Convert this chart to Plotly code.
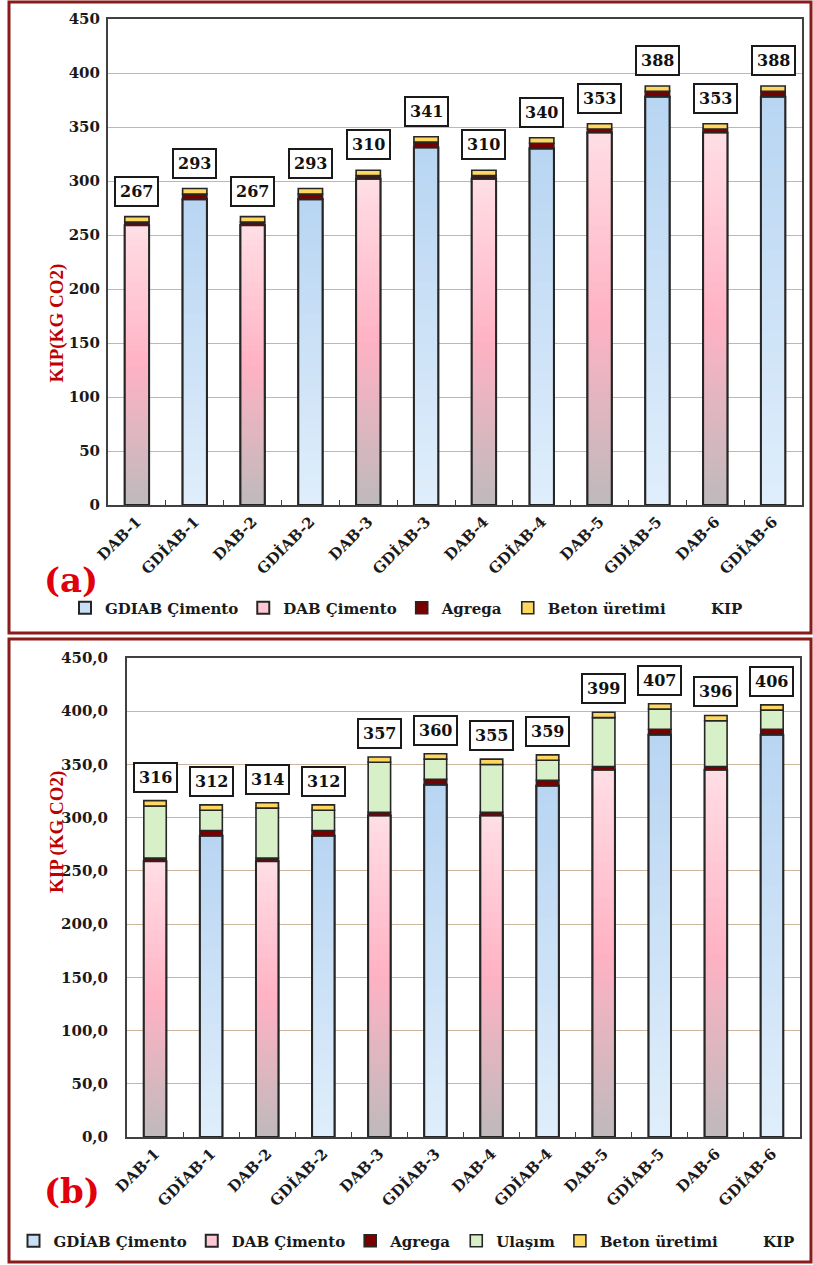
import plotly.graph_objects as go

# ---- data -------------------------------------------------------------
kategoriler = ["DAB-1", "GDİAB-1", "DAB-2", "GDİAB-2", "DAB-3", "GDİAB-3",
               "DAB-4", "GDİAB-4", "DAB-5", "GDİAB-5", "DAB-6", "GDİAB-6"]
cimento = [259, 283, 259, 283, 302, 331, 302, 330, 345, 378, 345, 378]
agrega = [3, 5, 3, 5, 3, 5, 3, 5, 3, 5, 3, 5]
beton_uretimi = [5, 5, 5, 5, 5, 5, 5, 5, 5, 5, 5, 5]
ulasim = [49, 19, 47, 19, 47, 19, 45, 19, 46, 19, 43, 18]

y_ticks = [0, 50, 100, 150, 200, 250, 300, 350, 400, 450]
y_ticktext_a = ["0", "50", "100", "150", "200", "250", "300", "350", "400", "450"]
y_ticktext_b = ["0,0", "50,0", "100,0", "150,0", "200,0", "250,0",
                "300,0", "350,0", "400,0", "450,0"]

# ---- page geometry helpers -------------------------------------------
W, H = 813, 1265


def px(x):
    return x / W


def py(y):
    return 1 - y / H


SERIF = "DejaVu Serif"
TIMES = "Liberation Serif"
EDGE = "#262626"
N_SLICES = 40

PINK_STOPS = [(0.0, (255, 222, 229)), (0.5, (255, 178, 196)), (1.0, (190, 186, 188))]
BLUE_STOPS = [(0.0, (184, 213, 242)), (1.0, (224, 238, 251))]


def ramp(stops, t):
    for (t0, c0), (t1, c1) in zip(stops[:-1], stops[1:]):
        if t <= t1:
            f = (t - t0) / (t1 - t0) if t1 > t0 else 0
            r, g, b = (round(a + (b_ - a) * f) for a, b_ in zip(c0, c1))
            return f"rgb({r},{g},{b})"
    r, g, b = stops[-1][1]
    return f"rgb({r},{g},{b})"


is_gd = [k.startswith("GD") for k in kategoriler]

fig = go.Figure()

panels = [
    dict(xa="x", ya="y", leg="legend", show_ulasim=False, bw=0.42,
         gd_name="GDIAB Çimento", lab_shift=10),
    dict(xa="x2", ya="y2", leg="legend2", show_ulasim=True, bw=0.40,
         gd_name="GDİAB Çimento", lab_shift=8),
]

annotations = []

for p in panels:
    xa, ya, leg, bw = p["xa"], p["ya"], p["leg"], p["bw"]
    common = dict(xaxis=xa, yaxis=ya, legend=leg, width=bw, hoverinfo="skip")

    # cement bars (legend entries)
    fig.add_trace(go.Bar(
        x=kategoriler, y=[c if g else None for c, g in zip(cimento, is_gd)],
        name=p["gd_name"], marker=dict(color="rgb(200,224,246)", line=dict(color=EDGE, width=2)),
        **common))
    fig.add_trace(go.Bar(
        x=kategoriler, y=[c if not g else None for c, g in zip(cimento, is_gd)],
        name="DAB Çimento", marker=dict(color="rgb(255,200,212)", line=dict(color=EDGE, width=2)),
        **common))

    # vertical colour ramp on the cement bars
    for k in range(N_SLICES):
        t = 1 - (k + 0.5) / N_SLICES
        colors = [ramp(BLUE_STOPS, t) if g else ramp(PINK_STOPS, t) for g in is_gd]
        fig.add_trace(go.Bar(
            x=kategoriler,
            y=[c * (N_SLICES - k) / N_SLICES for c in cimento],
            base=[c * k / N_SLICES for c in cimento],
            marker=dict(color=colors, line=dict(width=0)),
            showlegend=False, **common))

    # cement outline on top of the ramp
    fig.add_trace(go.Bar(
        x=kategoriler, y=cimento, showlegend=False,
        marker=dict(color="rgba(0,0,0,0)", line=dict(color=EDGE, width=2)),
        **common))

    base = list(cimento)
    fig.add_trace(go.Bar(
        x=kategoriler, y=agrega, base=base, name="Agrega",
        marker=dict(color="#7A0000", line=dict(color=EDGE, width=1.6)), **common))
    base = [b + a for b, a in zip(base, agrega)]

    if p["show_ulasim"]:
        fig.add_trace(go.Bar(
            x=kategoriler, y=ulasim, base=base, name="Ulaşım",
            marker=dict(color="#D8F0C8", line=dict(color=EDGE, width=1.6)), **common))
        base = [b + u for b, u in zip(base, ulasim)]

    fig.add_trace(go.Bar(
        x=kategoriler, y=beton_uretimi, base=base, name="Beton üretimi",
        marker=dict(color="#FFD75E", line=dict(color=EDGE, width=1.6)), **common))
    toplam = [b + v for b, v in zip(base, beton_uretimi)]

    # KIP series: carries the total labels
    fig.add_trace(go.Scatter(
        x=kategoriler, y=toplam, mode="markers", name="KIP",
        marker=dict(color="rgba(0,0,0,0)", size=1),
        xaxis=xa, yaxis=ya, legend=leg, hoverinfo="skip"))

    for cat, tot in zip(kategoriler, toplam):
        annotations.append(dict(
            x=cat, y=tot, xref=xa, yref=ya, text=f"{tot:g}", showarrow=False,
            yanchor="bottom", yshift=p["lab_shift"],
            font=dict(family=SERIF, size=16, color="#111", weight="bold"),
            bgcolor="white", bordercolor="#1a1a1a", borderwidth=2, borderpad=4))

# axis titles and panel tags
annotations += [
    dict(x=px(43), y=py(262), xref="paper", yref="paper", text="KIP(KG CO2)",
         textangle=-90, showarrow=False,
         font=dict(family=TIMES, size=19, color="#C00000", weight="bold")),
    dict(x=px(44), y=py(895), xref="paper", yref="paper", text="KIP (KG CO2)",
         textangle=-90, showarrow=False,
         font=dict(family=TIMES, size=19, color="#C00000", weight="bold")),
    dict(x=px(42), y=py(580), xref="paper", yref="paper", text="(a)", showarrow=False,
         font=dict(family=SERIF, size=34, color="#E0000B", weight="bold")),
    dict(x=px(42), y=py(1213), xref="paper", yref="paper", text="(b)", showarrow=False,
         font=dict(family=SERIF, size=34, color="#E0000B", weight="bold")),
]

tick_font = dict(family=SERIF, size=15, color="#1a1a1a", weight="bold")
xtick_font = dict(family=SERIF, size=15, color="#1a1a1a", weight="bold")


def xaxis_cfg(dom, anchor):
    return dict(domain=dom, anchor=anchor, type="category", range=[-0.5, 11.5],
                showline=True, linecolor="#404040", linewidth=2, mirror=True,
                showgrid=False, tickangle=-45, tickfont=xtick_font,
                ticks="inside", ticklen=5, tickcolor="#404040", tickson="boundaries",
                automargin=False)


def yaxis_cfg(dom, anchor, ticktext, standoff):
    return dict(domain=dom, anchor=anchor, range=[0, 450], tickvals=y_ticks,
                ticktext=ticktext, showline=True, linecolor="#404040", linewidth=2,
                mirror=True, showgrid=True, gridcolor="#CDB49C", gridwidth=1.3,
                zeroline=False, tickfont=tick_font, ticklabelstandoff=standoff,
                automargin=False)


legend_font = dict(family=SERIF, size=15, color="#1a1a1a", weight="bold")

fig.update_layout(
    width=W, height=H, margin=dict(l=0, r=0, t=0, b=0),
    paper_bgcolor="white", plot_bgcolor="white",
    barmode="overlay", showlegend=True,
    xaxis=xaxis_cfg([px(108), px(802)], "y"),
    yaxis=yaxis_cfg([py(505), py(19)], "x", y_ticktext_a, 3),
    xaxis2=xaxis_cfg([px(127), px(800)], "y2"),
    yaxis2=yaxis_cfg([py(1137), py(658)], "x2", y_ticktext_b, 14),
    legend=dict(orientation="h", x=0.5, xanchor="center", y=py(608), yanchor="middle",
                font=legend_font, itemwidth=30, bgcolor="rgba(0,0,0,0)",
                traceorder="normal"),
    legend2=dict(orientation="h", x=0.5, xanchor="center", y=py(1241), yanchor="middle",
                 font=legend_font, itemwidth=30, bgcolor="rgba(0,0,0,0)",
                 traceorder="normal"),
    annotations=annotations,
    shapes=[
        dict(type="rect", xref="paper", yref="paper", x0=px(9), x1=px(811),
             y0=py(633), y1=py(2), line=dict(color="#8B1A1A", width=3)),
        dict(type="rect", xref="paper", yref="paper", x0=px(9), x1=px(811),
             y0=py(1262), y1=py(639), line=dict(color="#8B1A1A", width=3)),
    ],
)

fig.write_html("out.html")
